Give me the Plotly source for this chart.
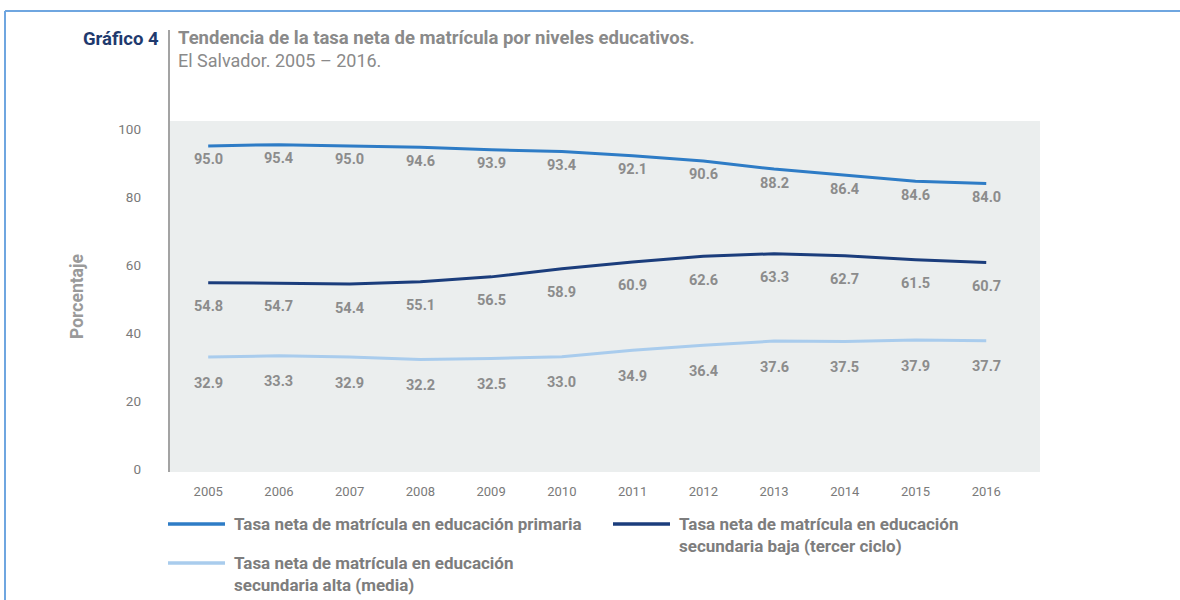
import plotly.graph_objects as go

years = [2005, 2006, 2007, 2008, 2009, 2010, 2011, 2012, 2013, 2014, 2015, 2016]
primaria = [95.0, 95.4, 95.0, 94.6, 93.9, 93.4, 92.1, 90.6, 88.2, 86.4, 84.6, 84.0]
sec_baja = [54.8, 54.7, 54.4, 55.1, 56.5, 58.9, 60.9, 62.6, 63.3, 62.7, 61.5, 60.7]
sec_alta = [32.9, 33.3, 32.9, 32.2, 32.5, 33.0, 34.9, 36.4, 37.6, 37.5, 37.9, 37.7]

names = [
    "Tasa neta de matrícula en educación primaria",
    "Tasa neta de matrícula en educación<br>secundaria baja (tercer ciclo)",
    "Tasa neta de matrícula en educación<br>secundaria alta (media)",
]
colors = ["#2e7cc6", "#1b3d7c", "#a9cced"]
label_shift = [-14, -24, -26]
y_ticks = [0, 20, 40, 60, 80, 100]

W, H = 1180, 600
L, R, T, B = 170, 1040, 121, 472
FONT = "Roboto"
GRAY = "#8c8c8c"


def px(x):
    return (x - L) / (R - L)


def py(y):
    return (B - y) / (B - T)


fig = go.Figure()
annotations = []
for vals, name, col, shift in zip([primaria, sec_baja, sec_alta], names, colors, label_shift):
    fig.add_trace(go.Scatter(
        x=years, y=vals, name=name, mode="lines",
        line=dict(color=col, width=3),
        showlegend=False, hoverinfo="x+y",
    ))
    for xv, yv in zip(years, vals):
        annotations.append(dict(
            x=xv, y=yv, xref="x", yref="y", text=f"<b>{yv:.1f}</b>", showarrow=False,
            yshift=shift, xanchor="center", yanchor="middle",
            font=dict(family=FONT, size=14.5, color=GRAY)))

annotations += [
    dict(text="<b>Gráfico 4</b>", x=px(161), y=py(39), xanchor="right", yanchor="middle",
         font=dict(family=FONT, size=18.5, color="#1f3a6e")),
    dict(text="<b>Tendencia de la tasa neta de matrícula por niveles educativos.</b>",
         x=px(176), y=py(38), xanchor="left", yanchor="middle",
         font=dict(family=FONT, size=18.5, color="#8a8a8a")),
    dict(text="El Salvador. 2005 – 2016.", x=px(176), y=py(60), xanchor="left", yanchor="middle",
         font=dict(family=FONT, size=18, color="#8a8a8a")),
]
shapes = [
    dict(type="line", xref="paper", yref="paper", x0=px(169), x1=px(169), y0=py(30), y1=py(472),
         line=dict(color="#a3a3a3", width=2)),
    dict(type="line", xref="paper", yref="paper", x0=px(5), x1=px(1180), y0=py(11), y1=py(11),
         line=dict(color="#6fa6e0", width=2)),
    dict(type="line", xref="paper", yref="paper", x0=px(5), x1=px(5), y0=py(11), y1=py(600),
         line=dict(color="#6fa6e0", width=2)),
]

# legend drawn manually
leg_pos = [(168, 524, 524), (613, 524, 535), (168, 563, 574)]
for (lx, ly, ty), name, col in zip(leg_pos, names, colors):
    shapes.append(dict(type="line", xref="paper", yref="paper", x0=px(lx), x1=px(lx + 57),
                       y0=py(ly), y1=py(ly), line=dict(color=col, width=3.5)))
    annotations.append(dict(text=f"<b>{name}</b>", x=px(lx + 64), y=py(ty), xanchor="left",
                            yanchor="middle", align="left", xref="paper", yref="paper",
                            font=dict(family=FONT, size=17, color="#7d7d7d")))

for a in annotations:
    a.setdefault("xref", "paper")
    a.setdefault("yref", "paper")
    a["showarrow"] = False

fig.update_layout(
    width=W, height=H,
    margin=dict(l=L, r=W - R, t=T, b=H - B, pad=0),
    paper_bgcolor="white", plot_bgcolor="#ebeeee",
    font=dict(family=FONT, color=GRAY),
    annotations=annotations, shapes=shapes,
    xaxis=dict(range=[2004.46, 2016.76], tickvals=years, ticks="", showgrid=False,
               zeroline=False, showline=False, tickfont=dict(size=13, color="#7a7a7a"),
               ticklabelstandoff=10, fixedrange=True),
    yaxis=dict(range=[-0.9, 102.35], tickvals=y_ticks, ticks="", showgrid=False,
               zeroline=False, showline=False, tickfont=dict(size=13.5, color="#7a7a7a"),
               ticklabelstandoff=28, fixedrange=True,
               title=dict(text="<b>Porcentaje</b>", standoff=30,
                          font=dict(size=17.5, color="#9a9a9a"))),
)

fig.write_html("out.html", config={"displayModeBar": False},
               post_script="document.body.style.margin='0px';")
